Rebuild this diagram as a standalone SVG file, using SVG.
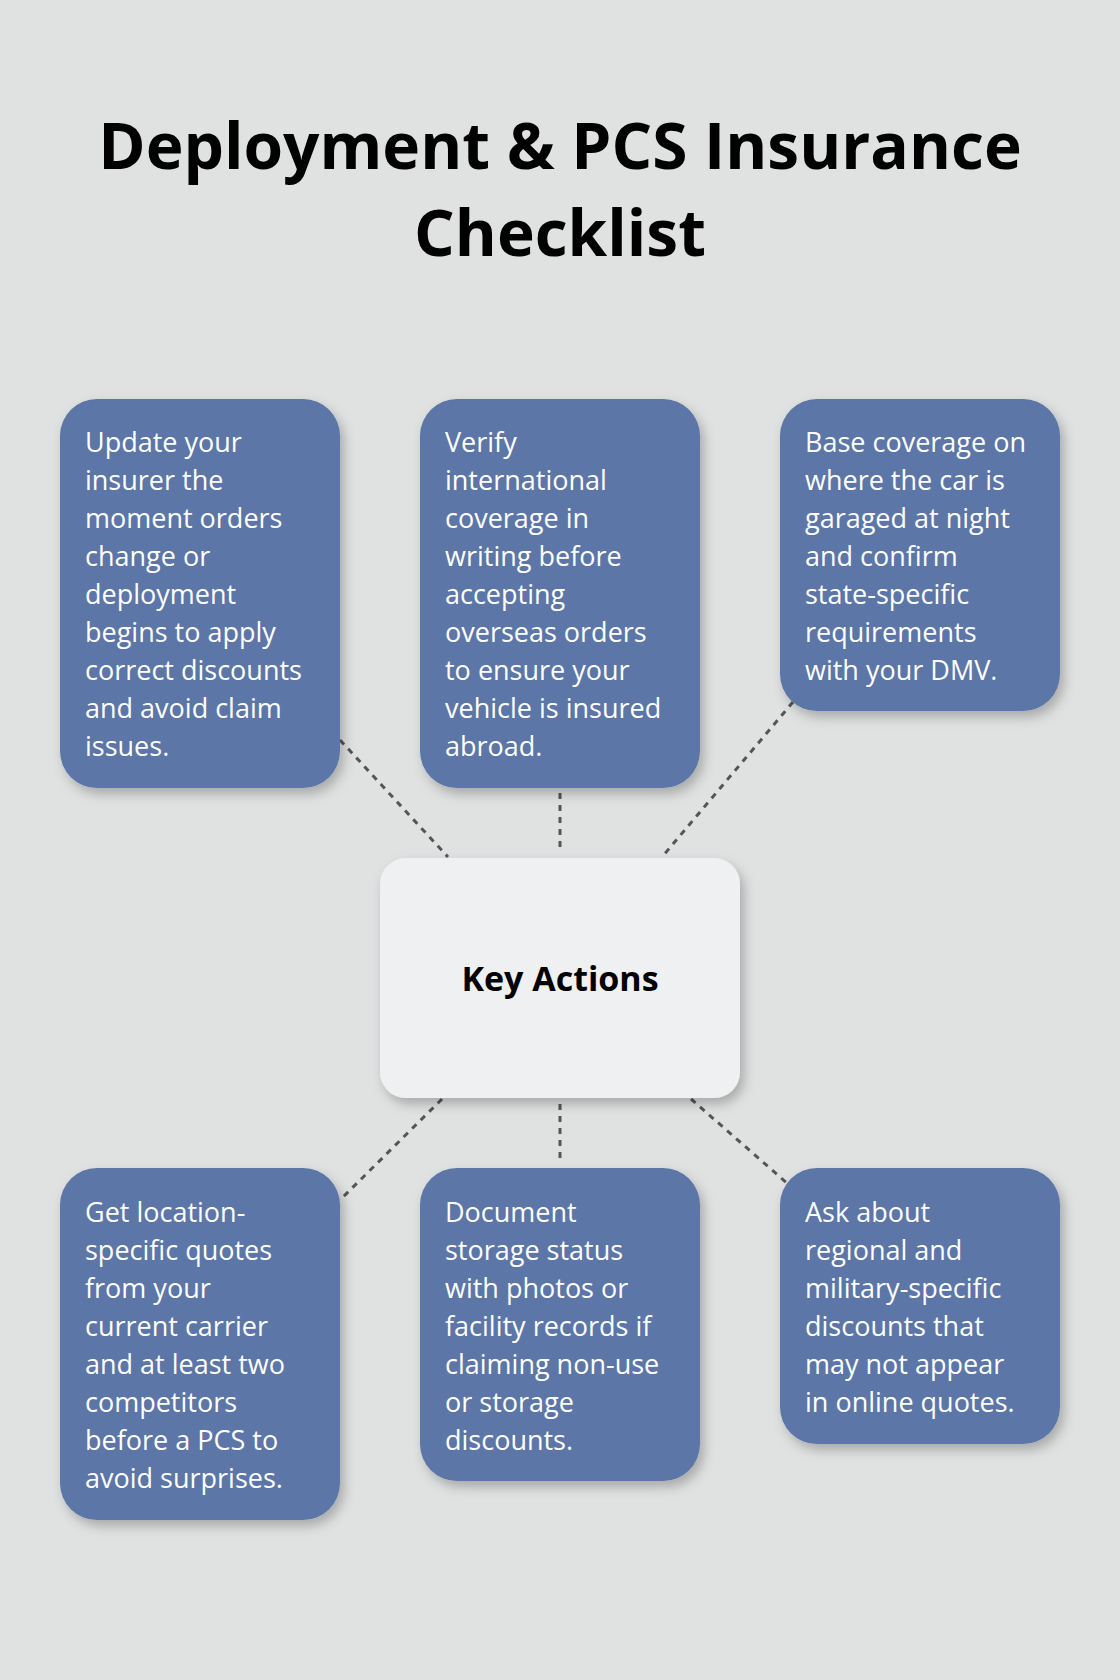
<svg xmlns="http://www.w3.org/2000/svg" width="1120" height="1680" viewBox="0 0 1120 1680">
<defs>
<filter id="sh" x="-20%" y="-20%" width="140%" height="140%"><feDropShadow dx="4" dy="6" stdDeviation="6" flood-color="#000" flood-opacity="0.25"/></filter>
<style>
.box{fill:#5b76a7;filter:url(#sh)}
.t{font-family:"Open Sans","Noto Sans",sans-serif;font-size:27px;fill:#fff}
.c{stroke:#555;stroke-width:3;stroke-dasharray:6 6;fill:none}
</style>
</defs>
<rect width="1120" height="1680" fill="#e0e2e1"/>
<g id="title" font-family="'Open Sans','Noto Sans',sans-serif" font-weight="bold" font-size="64" text-anchor="middle" fill="#000">
<text x="560" y="169">Deployment &amp; PCS Insurance</text>
<text x="560" y="256">Checklist</text>
</g>
<g id="connectors">
<line class="c" x1="340" y1="740" x2="448" y2="857"/>
<line class="c" x1="560" y1="793" x2="560" y2="852"/>
<line class="c" x1="793" y1="702" x2="662" y2="857"/>
<line class="c" x1="442" y1="1099" x2="340" y2="1200"/>
<line class="c" x1="560" y1="1104" x2="560" y2="1163"/>
<line class="c" x1="691" y1="1099" x2="788" y2="1184"/>
</g>
<g id="center">
<rect x="380" y="858" width="360" height="240" rx="26" fill="#eff0f2" filter="url(#sh)"/>
<text x="560" y="991" text-anchor="middle" font-family="'Open Sans','Noto Sans',sans-serif" font-weight="bold" font-size="34" fill="#000">Key Actions</text>
</g>
<g id="n1"><rect class="box" x="60" y="399" width="280" height="389" rx="37"/>
<text class="t" x="85" y="452"><tspan x="85">Update your</tspan><tspan x="85" dy="38">insurer the</tspan><tspan x="85" dy="38">moment orders</tspan><tspan x="85" dy="38">change or</tspan><tspan x="85" dy="38">deployment</tspan><tspan x="85" dy="38">begins to apply</tspan><tspan x="85" dy="38">correct discounts</tspan><tspan x="85" dy="38">and avoid claim</tspan><tspan x="85" dy="38">issues.</tspan></text></g>
<g id="n2"><rect class="box" x="420" y="399" width="280" height="389" rx="37"/>
<text class="t" x="445" y="452"><tspan x="445">Verify</tspan><tspan x="445" dy="38">international</tspan><tspan x="445" dy="38">coverage in</tspan><tspan x="445" dy="38">writing before</tspan><tspan x="445" dy="38">accepting</tspan><tspan x="445" dy="38">overseas orders</tspan><tspan x="445" dy="38">to ensure your</tspan><tspan x="445" dy="38">vehicle is insured</tspan><tspan x="445" dy="38">abroad.</tspan></text></g>
<g id="n3"><rect class="box" x="780" y="399" width="280" height="312" rx="37"/>
<text class="t" x="805" y="452"><tspan x="805">Base coverage on</tspan><tspan x="805" dy="38">where the car is</tspan><tspan x="805" dy="38">garaged at night</tspan><tspan x="805" dy="38">and confirm</tspan><tspan x="805" dy="38">state-specific</tspan><tspan x="805" dy="38">requirements</tspan><tspan x="805" dy="38">with your DMV.</tspan></text></g>
<g id="n4"><rect class="box" x="60" y="1168" width="280" height="352" rx="37"/>
<text class="t" x="85" y="1222"><tspan x="85">Get location-</tspan><tspan x="85" dy="38">specific quotes</tspan><tspan x="85" dy="38">from your</tspan><tspan x="85" dy="38">current carrier</tspan><tspan x="85" dy="38">and at least two</tspan><tspan x="85" dy="38">competitors</tspan><tspan x="85" dy="38">before a PCS to</tspan><tspan x="85" dy="38">avoid surprises.</tspan></text></g>
<g id="n5"><rect class="box" x="420" y="1168" width="280" height="313" rx="37"/>
<text class="t" x="445" y="1222"><tspan x="445">Document</tspan><tspan x="445" dy="38">storage status</tspan><tspan x="445" dy="38">with photos or</tspan><tspan x="445" dy="38">facility records if</tspan><tspan x="445" dy="38">claiming non-use</tspan><tspan x="445" dy="38">or storage</tspan><tspan x="445" dy="38">discounts.</tspan></text></g>
<g id="n6"><rect class="box" x="780" y="1168" width="280" height="276" rx="37"/>
<text class="t" x="805" y="1222"><tspan x="805">Ask about</tspan><tspan x="805" dy="38">regional and</tspan><tspan x="805" dy="38">military-specific</tspan><tspan x="805" dy="38">discounts that</tspan><tspan x="805" dy="38">may not appear</tspan><tspan x="805" dy="38">in online quotes.</tspan></text></g>
</svg>
